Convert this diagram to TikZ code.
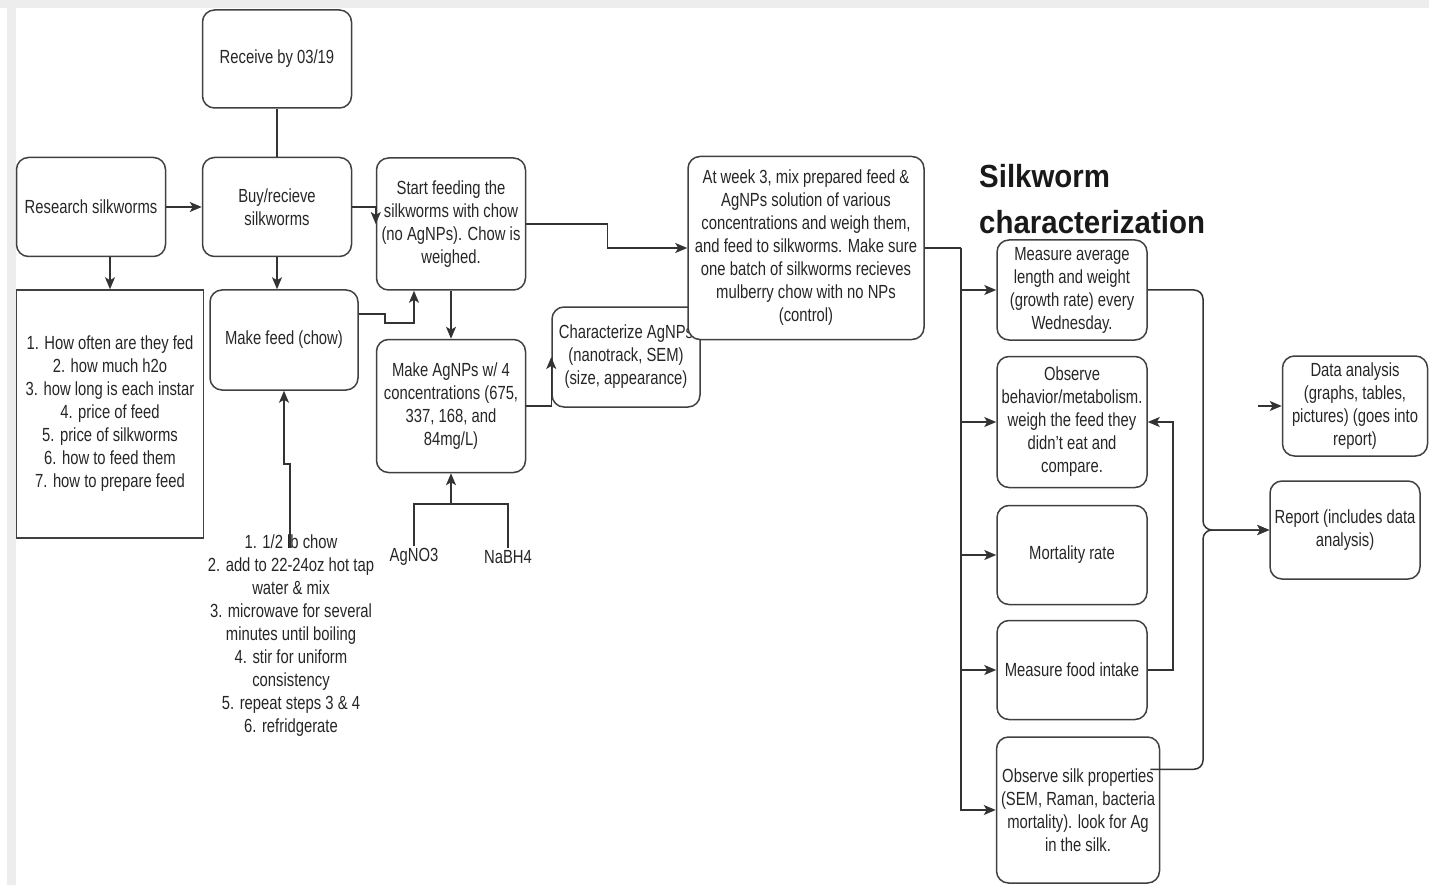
\documentclass[tikz,border=0pt]{standalone}
\usepackage{fontspec}
\setmainfont{Liberation Sans}[FakeStretch=0.78]
\newfontfamily\titlefont{Liberation Sans}[FakeStretch=0.92]
\usetikzlibrary{arrows.meta,calc}

\tikzset{
  box/.style={draw=black!75, line width=1.5pt, rounded corners=12pt, align=center, inner sep=2pt, text=black!85},
  plain/.style={align=center, inner sep=2pt, text=black!85},
  arr/.style={-{Stealth[length=12pt,width=10pt,inset=3pt]}},
  link/.style={draw=black!80, line width=1.5pt}
}

\begin{document}
\begin{tikzpicture}[x=1pt, y=-1pt, font=\fontsize{19}{23}\selectfont]
  \useasboundingbox (0,0) rectangle (1429,885);
  % page frame
  \fill[black!7] (0,0) rectangle (1429,8);
  \fill[black!7] (7,0) rectangle (16,885);

  % first column
  \node[box, minimum width=149pt, minimum height=98pt] (receive) at (277,59) {Receive by 03/19};
  \node[box, minimum width=149pt, minimum height=99pt] (research) at (91,207) {Research silkworms};
  \node[box, minimum width=149pt, minimum height=99pt] (buy) at (277,207) {Buy/recieve\\silkworms};
  \node[box, rounded corners=0pt, minimum width=187pt, minimum height=248pt] (questions) at (110,414)
    {1. How often are they fed\\2. how much h2o\\3. how long is each instar\\4. price of feed\\5. price of silkworms\\6. how to feed them\\7. how to prepare feed};
  \node[box, minimum width=148pt, minimum height=100pt] (feed) at (284,340) {Make feed (chow)};
  \node[plain] (recipe) at (291,636)
    {1. 1/2 lb chow\\2. add to 22-24oz hot tap\\water \& mix\\3. microwave for several\\minutes until boiling\\4. stir for uniform\\consistency\\5. repeat steps 3 \& 4\\6. refridgerate};

  % silver nanoparticles
  \node[box, minimum width=149pt, minimum height=132pt] (start) at (451,224) {Start feeding the\\silkworms with chow\\(no AgNPs). Chow is\\weighed.};
  \node[box, minimum width=149pt, minimum height=133pt] (agnps) at (451,406) {Make AgNPs w/ 4\\concentrations (675,\\337, 168, and\\84mg/L)};
  \node[plain] (agno3) at (414,557) {AgNO3};
  \node[plain] (nabh4) at (508,557) {NaBH4};
  \node[box, minimum width=148pt, minimum height=100pt] (char) at (626,357) {Characterize AgNPs\\(nanotrack, SEM)\\(size, appearance)};
  \node[box, fill=white, minimum width=236pt, minimum height=183pt] (week3) at (806,248)
    {At week 3, mix prepared feed \&\\AgNPs solution of various\\concentrations and weigh them,\\and feed to silkworms. Make sure\\one batch of silkworms recieves\\mulberry chow with no NPs\\(control)};

  % characterization
  \node[anchor=north west, align=left, inner sep=0pt, text=black!90,
        font=\titlefont\bfseries\fontsize{32}{46}\selectfont] (title) at (979,164) {Silkworm\\characterization};
  \node[box, minimum width=150pt, minimum height=100pt] (avg) at (1072,290) {Measure average\\length and weight\\(growth rate) every\\Wednesday.};
  \node[box, minimum width=150pt, minimum height=131pt] (behav) at (1072,422) {Observe\\behavior/metabolism.\\weigh the feed they\\didn't eat and\\compare.};
  \node[box, minimum width=150pt, minimum height=99pt] (mort) at (1072,555) {Mortality rate};
  \node[box, minimum width=150pt, minimum height=99pt] (food) at (1072,670) {Measure food intake};
  \node[box, minimum width=163pt, minimum height=146pt] (silkobs) at (1078,810) {Observe silk properties\\(SEM, Raman, bacteria\\mortality). look for Ag\\in the silk.};
  \node[box, minimum width=145pt, minimum height=100pt] (data) at (1355,406) {Data analysis\\(graphs, tables,\\pictures) (goes into\\report)};
  \node[box, minimum width=150pt, minimum height=98pt] (report) at (1345,530) {Report (includes data\\analysis)};

  \coordinate (recipetop) at (290,548);
  \coordinate (bus) at (961,248);
  \coordinate (merge) at (1203,530);
  \coordinate (dataend) at (1258,406);

  % connectors
  \draw[link] (receive) -- (buy);
  \draw[link, arr] (research) -- (buy);
  \draw[link, arr] (research.south -| questions.north) -- (questions.north);
  \draw[link, arr] (buy.south) -- (buy.south |- feed.north);
  \draw[link, arr] (buy.east) -| (start.west);
  \draw[link, arr] ($(feed.east)+(0,-26)$) -- ++(26,0) -- ++(0,9) -| ($(start.south)+(-37,0)$);
  \draw[link, arr] (recipetop) |- ($(feed.south)+(0,73)$) -- (feed.south);
  \draw[link, arr] (start) -- (agnps);
  \draw[link] (agno3.north) -- (agno3.north |- 0,504) -| (nabh4.north);
  \draw[link, arr] (agnps.south |- 0,504) -- (agnps.south);
  \draw[link, arr] (agnps.east) -| (char.west);
  \draw[link, arr] (start.east) -- ++(81,0) |- (week3.west);

  \draw[link] (week3.east) -- (bus);
  \draw[link, arr] (bus) |- (silkobs.west);
  \foreach \n in {avg,behav,mort,food}
    \draw[link, arr] (bus |- \n.west) -- (\n.west);
  \draw[link, arr] (food.east) -- ++(25,0) |- (behav.east);

  \draw[link, arr, rounded corners=9pt] (avg.east) -| (merge) -- (report.west);
  \draw[link, arr, rounded corners=9pt] ($(silkobs.north east)+(-10,33)$) -| (merge) -- (report.west);
  \draw[link, arr] (dataend) -- (data.west);
\end{tikzpicture}
\end{document}
